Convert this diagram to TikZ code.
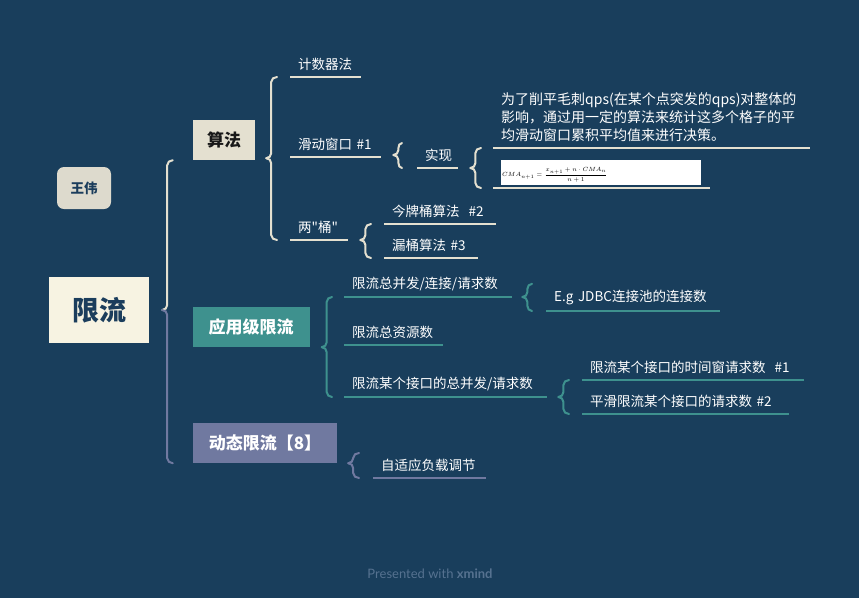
\documentclass[tikz,border=0pt]{standalone}
\usepackage[no-math]{fontspec}
\setmainfont{Noto Sans CJK SC}[Ligatures=TeXOff]
\newfontfamily\footfont{Lato}
\usetikzlibrary{calc}

\definecolor{bg}{RGB}{25,62,92}
\definecolor{cream}{RGB}{228,224,208}
\definecolor{rootfill}{RGB}{247,243,226}
\definecolor{greyfill}{RGB}{221,218,205}
\definecolor{apteal}{RGB}{62,145,142}
\definecolor{dynpurple}{RGB}{112,121,160}
\definecolor{rootblue}{RGB}{27,61,92}
\definecolor{footgrey}{RGB}{86,114,144}

\tikzset{
  leaf/.style={anchor=south west, inner xsep=8pt, inner ysep=6pt, text=white,
    align=left, font=\fontsize{13.5}{17}\selectfont},
  mainbox/.style={minimum height=40pt, inner sep=0pt, font=\fontsize{17}{20}\selectfont\bfseries},
  algline/.style={draw=cream, line width=2.4pt},
  appline/.style={draw=apteal, line width=2.4pt},
  dynline/.style={draw=dynpurple, line width=2.4pt},
  algbrace/.style={draw=cream, line width=2pt, line cap=round},
  appbrace/.style={draw=apteal, line width=2pt, line cap=round},
  dynbrace/.style={draw=dynpurple, line width=2pt, line cap=round}
}

% brace: top style, bottom style, cusp, top end, bottom end
\newcommand{\brc}[5]{%
  \draw[#1] let \p1=(#3), \p2=(#4) in
    (\x2,\y2) to[out=180,in=90] (\x1+5pt,\y2-5pt) -- (\x1+5pt,\y1+5pt) to[out=-90,in=0] (\x1,\y1);
  \draw[#2] let \p1=(#3), \p3=(#5) in
    (\x1,\y1) to[out=0,in=90] (\x1+5pt,\y1-5pt) -- (\x1+5pt,\y3+5pt) to[out=-90,in=180] (\x3,\y3);
}

\begin{document}
\begin{tikzpicture}[x=1pt,y=-1pt]
\fill[bg] (0,0) rectangle (859,598);
\useasboundingbox (0,0) rectangle (859,598);

% root and author
\node [fill=rootfill, text=rootblue, minimum width=100pt, minimum height=66pt,
  font=\fontsize{27}{30}\selectfont\bfseries] (xianliu) at (99,310) {限流};
\node [fill=greyfill, text=rootblue, rounded corners=7pt, minimum width=54pt, minimum height=42pt,
  font=\fontsize{13.5}{16}\selectfont\bfseries] (wangwei) at (84,188) {王伟};

% first level
\node [mainbox, fill=cream, text=black!90, minimum width=62pt] (suanfa) at (224,140) {算法};
\node [mainbox, fill=apteal, text=white, minimum width=117pt] (yingyong) at (251,327) {应用级限流};
\node [mainbox, fill=dynpurple, text=white, minimum width=144pt] (dongtai) at (265,443) {动态限流【8】};

% 算法
\node [leaf, text width=55pt] (jishuqi) at (290,77) {计数器法};
\node [leaf, text width=75pt] (huadong) at (290,157) {滑动窗口 \#1};
\node [leaf, text width=42pt] (liangtong) at (290,240) {两"桶"};
\node [leaf, text width=25pt] (shixian) at (417,168) {实现};
\node [leaf, text width=301pt, font=\fontsize{14}{18}\selectfont] (miaoshu) at (493,148)
  {为了削平毛刺qps(在某个点突发的qps)对整体的\\影响，通过用一定的算法来统计这多个格子的平\\均滑动窗口累积平均值来进行决策。};
\node [leaf, text width=201pt, inner ysep=3pt] (gongshi) at (493,188)
  {\setlength{\fboxsep}{0pt}\colorbox{white}{\makebox[200pt][l]{\rule[-8pt]{0pt}{25pt}\hspace{1pt}\color{black}\fontsize{6}{7}\selectfont
   $\displaystyle CMA_{n+1}=\frac{x_{n+1}+n\cdot CMA_n}{n+1}$}}};
\node [leaf, text width=96pt] (lingpai) at (384,224) {今牌桶算法 \ \#2};
\node [leaf, text width=78pt] (loutong) at (384,258) {漏桶算法 \#3};

% 应用级限流
\node [leaf, text width=152pt] (bingfa) at (344,297) {限流总并发/连接/请求数};
\node [leaf, text width=83pt] (ziyuan) at (344,345) {限流总资源数};
\node [leaf, text width=187pt] (jiekou) at (344,397) {限流某个接口的总并发/请求数};
\node [leaf, text width=158pt] (jdbc) at (546,311) {E.g JDBC连接池的连接数};
\node [leaf, text width=206pt] (shijianchuang) at (582,380) {限流某个接口的时间窗请求数 \ \#1};
\node [leaf, text width=191pt] (pinghua) at (582,414) {平滑限流某个接口的请求数 \#2};

% 动态限流
\node [leaf, text width=97pt] (zishiying) at (373,478) {自适应负载调节};

% underlines
\foreach \n in {jishuqi,huadong,liangtong,shixian,miaoshu,gongshi,lingpai,loutong}
  \draw[algline] (\n.south west) -- (\n.south east);
\foreach \n in {bingfa,ziyuan,jiekou,jdbc,shijianchuang,pinghua}
  \draw[appline] (\n.south west) -- (\n.south east);
\draw[dynline] (zishiying.south west) -- (zishiying.south east);

% braces
\brc{algbrace}{dynbrace}{$(xianliu.east)+(13,0)$}{$(suanfa.south west)+(-20,0)$}{$(dongtai.south west)+(-20,0)$}
\brc{algbrace}{algbrace}{$(suanfa.south east)+(11,-2)$}{$(jishuqi.south west)+(-13,0)$}{$(liangtong.south west)+(-13,0)$}
\brc{algbrace}{algbrace}{$(huadong.south east)+(12,-2)$}{$(shixian.north west)+(-15,0)$}{$(shixian.south west)+(-15,0)$}
\brc{algbrace}{algbrace}{$(shixian.south east)+(12,0)$}{$(miaoshu.south west)+(-12,0)$}{$(gongshi.south west)+(-12,0)$}
\brc{algbrace}{algbrace}{$(liangtong.south east)+(12,0)$}{$(lingpai.south west)+(-13,0)$}{$(loutong.south west)+(-13,0)$}
\brc{appbrace}{appbrace}{$(yingyong.south east)+(12,0)$}{$(bingfa.south west)+(-12,0)$}{$(jiekou.south west)+(-12,0)$}
\brc{appbrace}{appbrace}{$(bingfa.south east)+(10,0)$}{$(jdbc.north west)+(-14,0)$}{$(jdbc.south west)+(-14,0)$}
\brc{appbrace}{appbrace}{$(jiekou.south east)+(11,0)$}{$(shijianchuang.south west)+(-13,0)$}{$(pinghua.south west)+(-13,0)$}
\brc{dynbrace}{dynbrace}{$(dongtai.south east)+(11,0)$}{$(zishiying.north west)+(-14,0)$}{$(zishiying.south west)+(-14,0)$}

% footer
\node [text=footgrey, font=\footfont\fontsize{13}{15}\selectfont] (footer) at (430,574) {Presented with \textbf{xmind}};
\end{tikzpicture}
\end{document}
